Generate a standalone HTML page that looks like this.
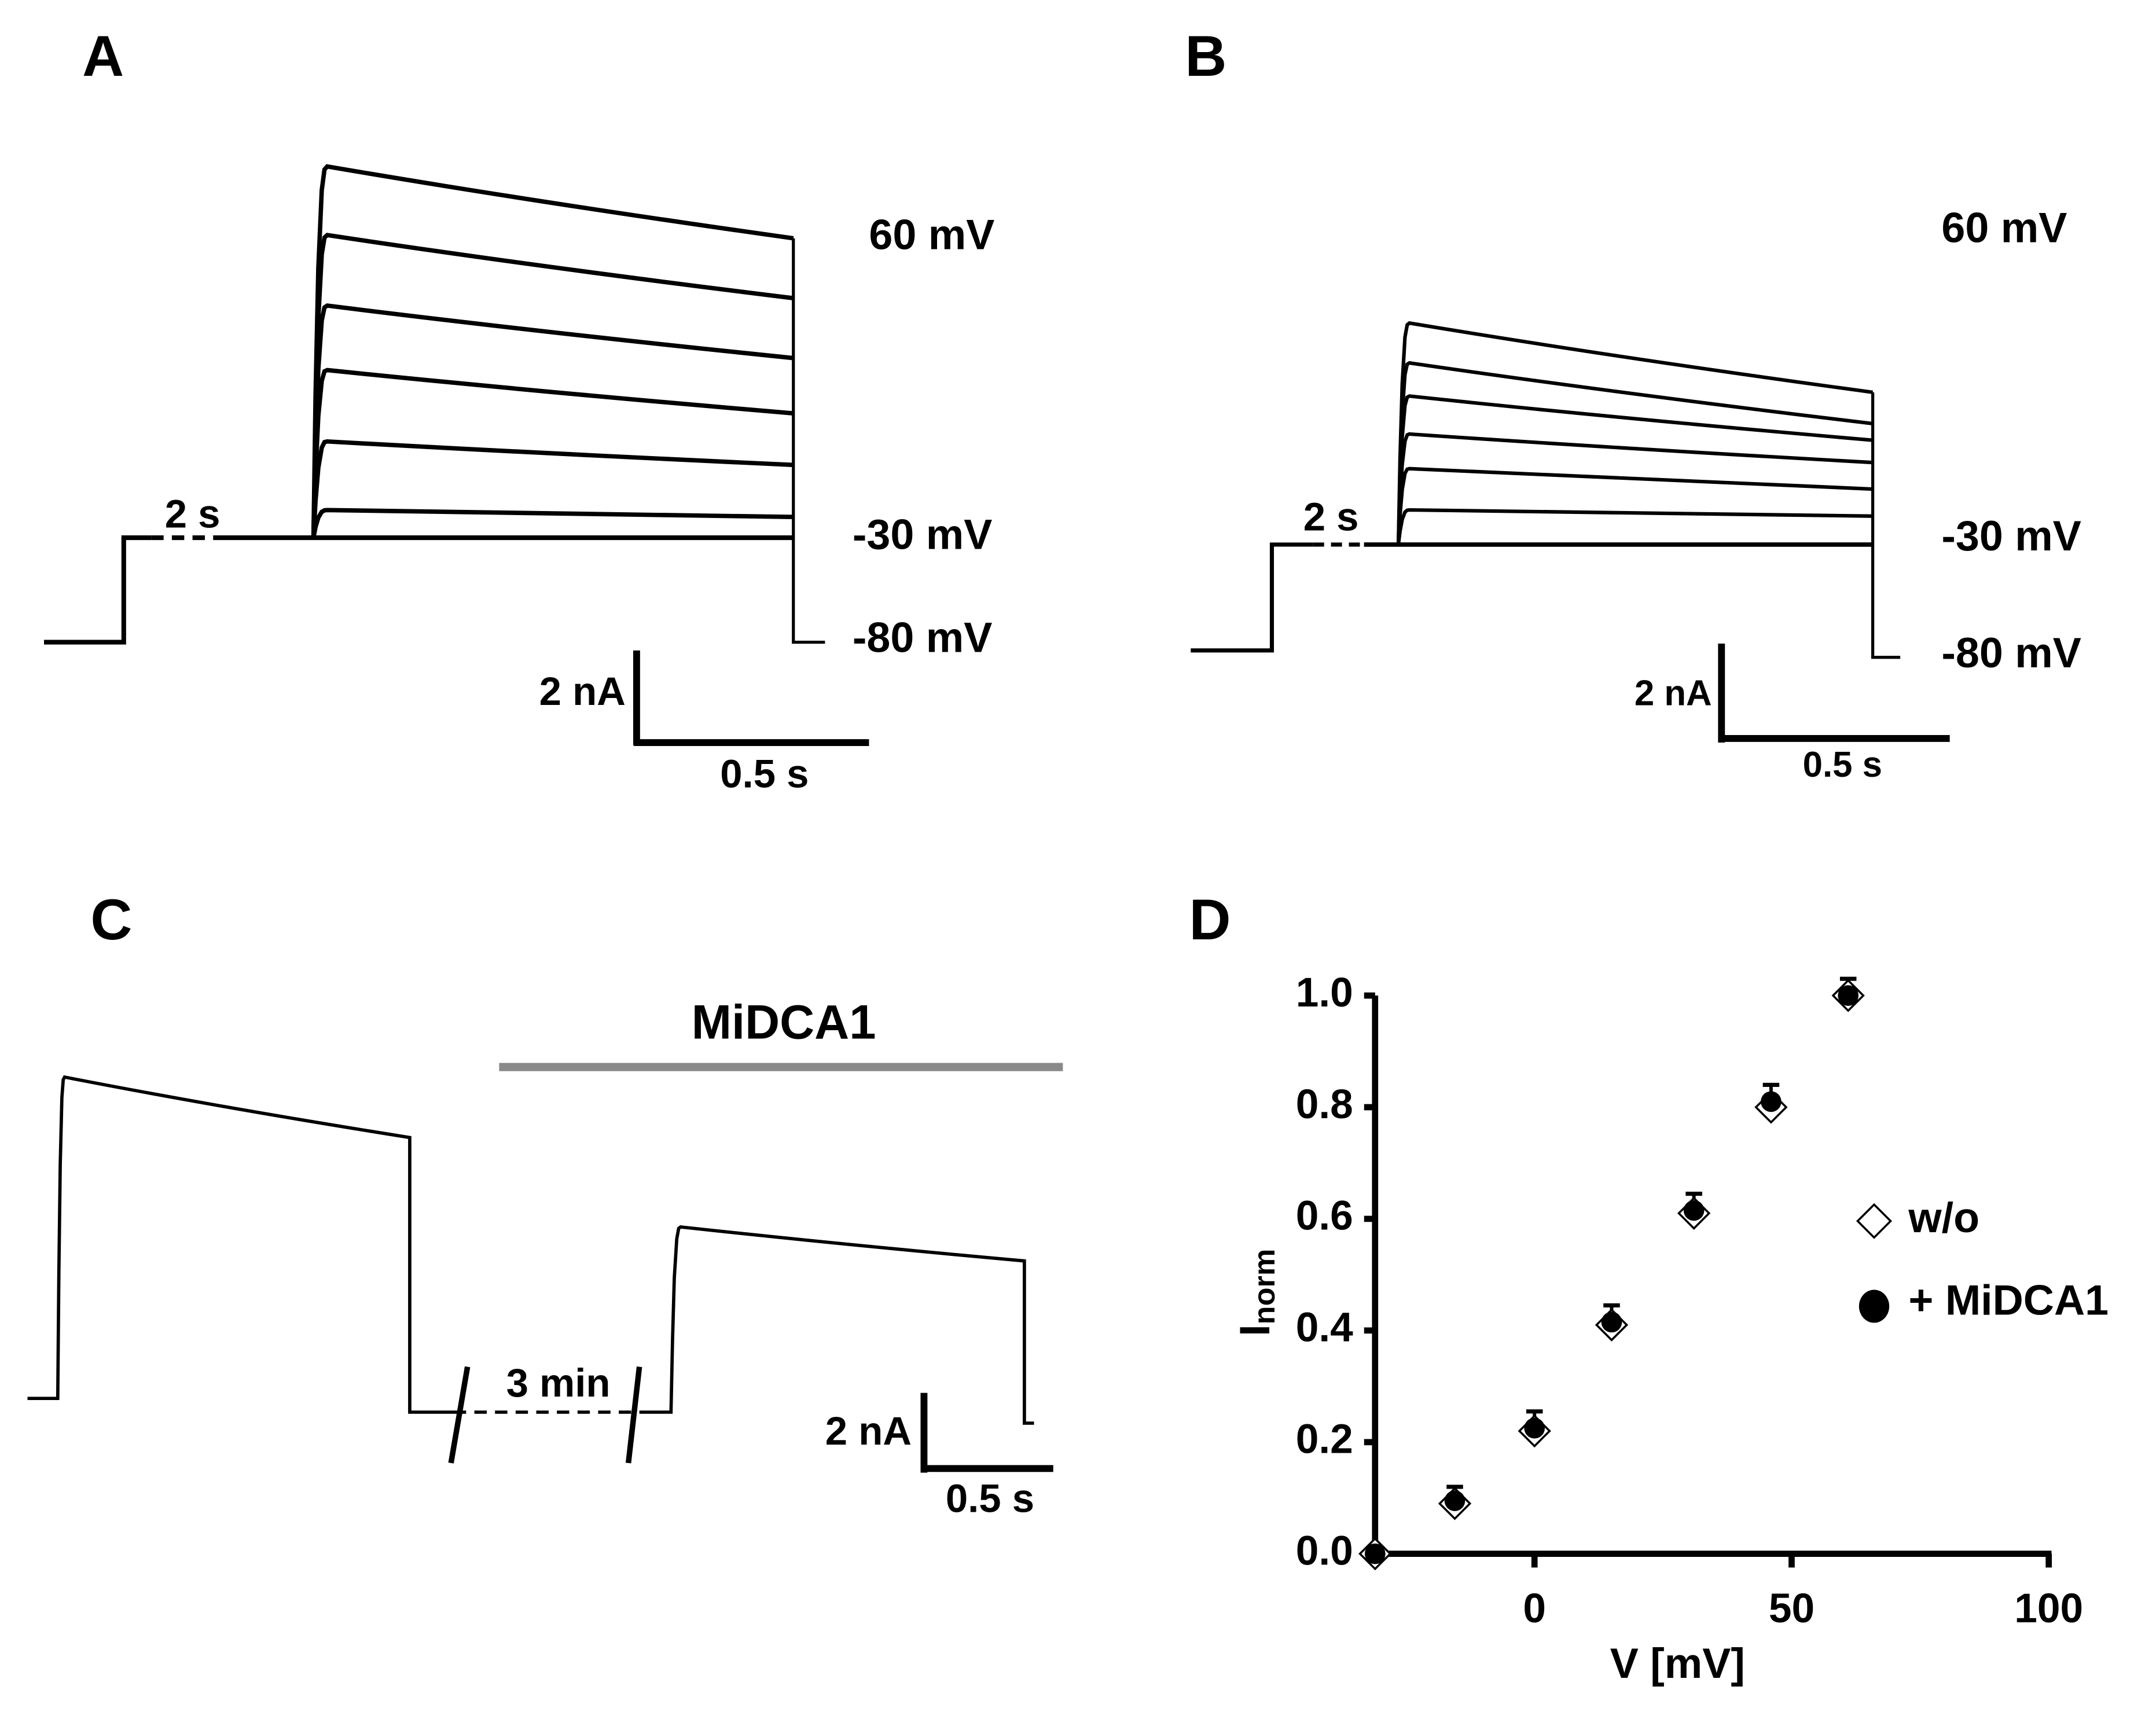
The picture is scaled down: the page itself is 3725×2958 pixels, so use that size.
<!DOCTYPE html>
<html><head><meta charset="utf-8"><style>
html,body{margin:0;padding:0;background:#fff;}
svg{display:block;font-family:"Liberation Sans",Arial,sans-serif;font-weight:bold;}
</style></head><body>
<svg id="fig" width="3725" height="2958" viewBox="0 0 1568 1245" xmlns="http://www.w3.org/2000/svg">
<rect width="1568" height="1245" fill="#fff"/>
<g id="pA"></g>
<g id="pB"></g>
<g id="pC"></g>
<g id="pD"></g>
</svg>
<script>
// Panel A currents (nA)
const aPeaks = [8.06, 6.57, 5.04, 3.64, 2.09, 0.6];
const aEnds  = [6.5, 5.2, 3.9, 2.7, 1.58, 0.45];
// Panel B currents (nA)
const bPeaks = [4.67, 3.83, 3.13, 2.33, 1.6, 0.73];
const bEnds  = [3.21, 2.55, 2.2, 1.73, 1.17, 0.6];
// Panel C currents (nA): control, +MiDCA1
const cPeaks = [8.5, 4.9];
const cEnds  = [6.9, 4.0];
// Panel D data
const dVoltage = [-31, -15.5, 0, 15, 31, 46, 61];
const dWo      = [0.0, 0.09, 0.22, 0.41, 0.61, 0.80, 1.0];
const dMidca   = [0.0, 0.095, 0.225, 0.415, 0.615, 0.81, 1.0];
const dErr     = [0.0, 0.025, 0.03, 0.03, 0.03, 0.03, 0.03];
const xTicks = [0, 50, 100];
const yTicks = [0.0, 0.2, 0.4, 0.6, 0.8, 1.0];

const NS = "http://www.w3.org/2000/svg";
function mk(parent, tag, attrs, text){
  const e = document.createElementNS(NS, tag);
  for (const k in attrs) e.setAttribute(k, attrs[k]);
  if (text !== undefined) e.textContent = text;
  parent.appendChild(e);
  return e;
}
function ln(p, x1,y1,x2,y2,w,extra){
  return mk(p,'line',Object.assign({x1,y1,x2,y2,stroke:'#000','stroke-width':w},extra||{}));
}
function txt(p, x,y,s,size,anchor){
  return mk(p,'text',{x,y,'font-size':size,'text-anchor':anchor||'start','dominant-baseline':'middle',fill:'#000'},s);
}
function tracePath(x0,x1,base,py,ey,rise){
  let d = `M${x0},${base}`;
  const steps=[0.15,0.35,0.6,0.8,1];
  for(const f of steps){
    const x = x0 + f*rise;
    const y = base + (py-base)*(1-Math.pow(1-f,3));
    d += ` L${x.toFixed(1)},${y.toFixed(1)}`;
  }
  const xm = x0+rise+(x1-x0-rise)*0.45;
  const ym = py + (ey-py)*0.5;
  d += ` Q${xm.toFixed(1)},${ym.toFixed(1)} ${x1},${ey}`;
  return d;
}

// ---- Panel A ----
(function(){
  const g = document.getElementById('pA');
  const base=391, x0=228, x1=577, k=33.5;
  const lab = txt(g,75,44,'A',42,'middle');
   
  mk(g,'path',{d:`M32,467 L90,467 L90,${base} L110,${base}`,fill:'none',stroke:'#000','stroke-width':3.4});
  ln(g,110,base,155,base,3.4,{'stroke-dasharray':'9,6'});
  ln(g,155,base,x1,base,3.4);
  txt(g,140,376,'2 s',29,'middle');
  aPeaks.forEach((p,i)=>{
    const e = mk(g,'path',{d:tracePath(x0,x1,base,base-p*k,base-aEnds[i]*k,10),fill:'none',stroke:'#000','stroke-width':3.2});
    
    
  });
  mk(g,'path',{d:`M${x1},${base-aEnds[0]*k} L${x1},467 L600,467`,fill:'none',stroke:'#000','stroke-width':2.2});
  txt(g,632,173,'60 mV',31); txt(g,620,391,'-30 mV',31); txt(g,620,466,'-80 mV',31);
  ln(g,463,473,463,542,5); ln(g,461,540,632,540,5);
  txt(g,455,505,'2 nA',29,'end'); txt(g,556,565,'0.5 s',29,'middle');
})();

// ---- Panel B ----
(function(){
  const g = document.getElementById('pB');
  const base=396, x0=1017, x1=1362, k=34.5;
  const lab = txt(g,877,44,'B',42,'middle');
   
  mk(g,'path',{d:`M866,473 L925,473 L925,${base} L955,${base}`,fill:'none',stroke:'#000','stroke-width':3});
  ln(g,955,base,992,base,3,{'stroke-dasharray':'8,5'});
  ln(g,992,base,x1,base,3.2);
  txt(g,968,378,'2 s',29,'middle');
  bPeaks.forEach((p,i)=>{
    const e = mk(g,'path',{d:tracePath(x0,x1,base,base-p*k,base-bEnds[i]*k,8),fill:'none',stroke:'#000','stroke-width':2.6});
    
    
  });
  mk(g,'path',{d:`M${x1},${base-bEnds[0]*k} L${x1},478 L1382,478`,fill:'none',stroke:'#000','stroke-width':2.2});
  txt(g,1412,168,'60 mV',31); txt(g,1412,392,'-30 mV',31); txt(g,1412,477,'-80 mV',31);
  ln(g,1252,468,1252,540,5); ln(g,1250,537,1418,537,5);
  txt(g,1245,506,'2 nA',26,'end'); txt(g,1340,558,'0.5 s',26,'middle');
})();

// ---- Panel C ----
(function(){
  const g = document.getElementById('pC');
  const k=27.5;
  const lab = txt(g,81,672,'C',42,'middle');
   
  const b1=1017, b2=1027;
  const t1 = mk(g,'path',{d:`M20,${b1} ${tracePath(42,298,b1,b1-cPeaks[0]*k,b1-cEnds[0]*k,5).replace('M','L')} L298,${b2} L330,${b2}`,fill:'none',stroke:'#000','stroke-width':2.4});
   
  ln(g,330,b2,470,b2,2.4,{'stroke-dasharray':'9,6'});
  ln(g,340,994,328,1064,4); ln(g,465,994,457,1064,4);
  txt(g,406,1008,'3 min',29,'middle');
  const t2 = mk(g,'path',{d:`M470,${b2} L488,${b2} ${tracePath(488,745,b2,b2-cPeaks[1]*k,b2-cEnds[1]*k,7).replace('M','L')} L745,1035 L752,1035`,fill:'none',stroke:'#000','stroke-width':2.4});
   
  ln(g,363,776,773,776,6,{stroke:'#8a8a8a'});
  txt(g,570,746,'MiDCA1',35,'middle');
  ln(g,672,1013,672,1071,5); ln(g,670,1068,766,1068,5);
  txt(g,663,1043,'2 nA',29,'end'); txt(g,720,1092,'0.5 s',29,'middle');
})();

// ---- Panel D ----
(function(){
  const g = document.getElementById('pD');
  const X = v => 1116 + v*3.74;
  const Y = v => 1130 - v*406;
  const lab = txt(g,880,672,'D',42,'middle');
   
  const xa = ln(g,X(-31),Y(0),X(100)+2,Y(0),4.5);
   
  const ya = ln(g,X(-31),Y(0)+2,X(-31),Y(1.0),4.5);
   
  xTicks.forEach(t=>{
    ln(g,X(t),Y(0),X(t),Y(0)+10,4.5);
    const e = txt(g,X(t),1172,String(t),30,'middle');
     
  });
  yTicks.forEach(t=>{
    ln(g,X(-31)-8,Y(t),X(-31),Y(t),4.5);
    const e = txt(g,X(-31)-16,Y(t),t.toFixed(1),30,'end');
     
  });
  const xt = txt(g,1220,1212,'V [mV]',31,'middle');
   
  const yt = mk(g,'text',{x:0,y:0,'font-size':31,'text-anchor':'middle','dominant-baseline':'middle',transform:'translate(915,940) rotate(-90)'});
   
  yt.innerHTML = 'I<tspan font-size="22" dy="6">norm</tspan>';
  dVoltage.forEach((v,i)=>{
    const x=X(v), yw=Y(dWo[i]), ym=Y(dMidca[i]);
    if(dErr[i]>0){
      const ye=Y(dMidca[i]+dErr[i]);
      ln(g,x,ym,x,ye,2.5); ln(g,x-6,ye,x+6,ye,3);
    }
    const d = mk(g,'polygon',{points:`${x},${yw-11} ${x+11},${yw} ${x},${yw+11} ${x-11},${yw}`,fill:'#fff',stroke:'#000','stroke-width':1.5});
    
    
    const c = mk(g,'circle',{cx:x,cy:ym,r:7.5,fill:'#000'});
    
    
  });
  const l1 = mk(g,'g',{});
   
  mk(l1,'polygon',{points:'1363,876 1375,888 1363,900 1351,888',fill:'#fff',stroke:'#000','stroke-width':1.5});
  txt(l1,1388,888,'w/o',31);
  const l2 = mk(g,'g',{});
   
  mk(l2,'ellipse',{cx:1363,cy:950,rx:11,ry:12,fill:'#000'});
  txt(l2,1388,948,'+ MiDCA1',31);
})();
</script>
</body></html>
